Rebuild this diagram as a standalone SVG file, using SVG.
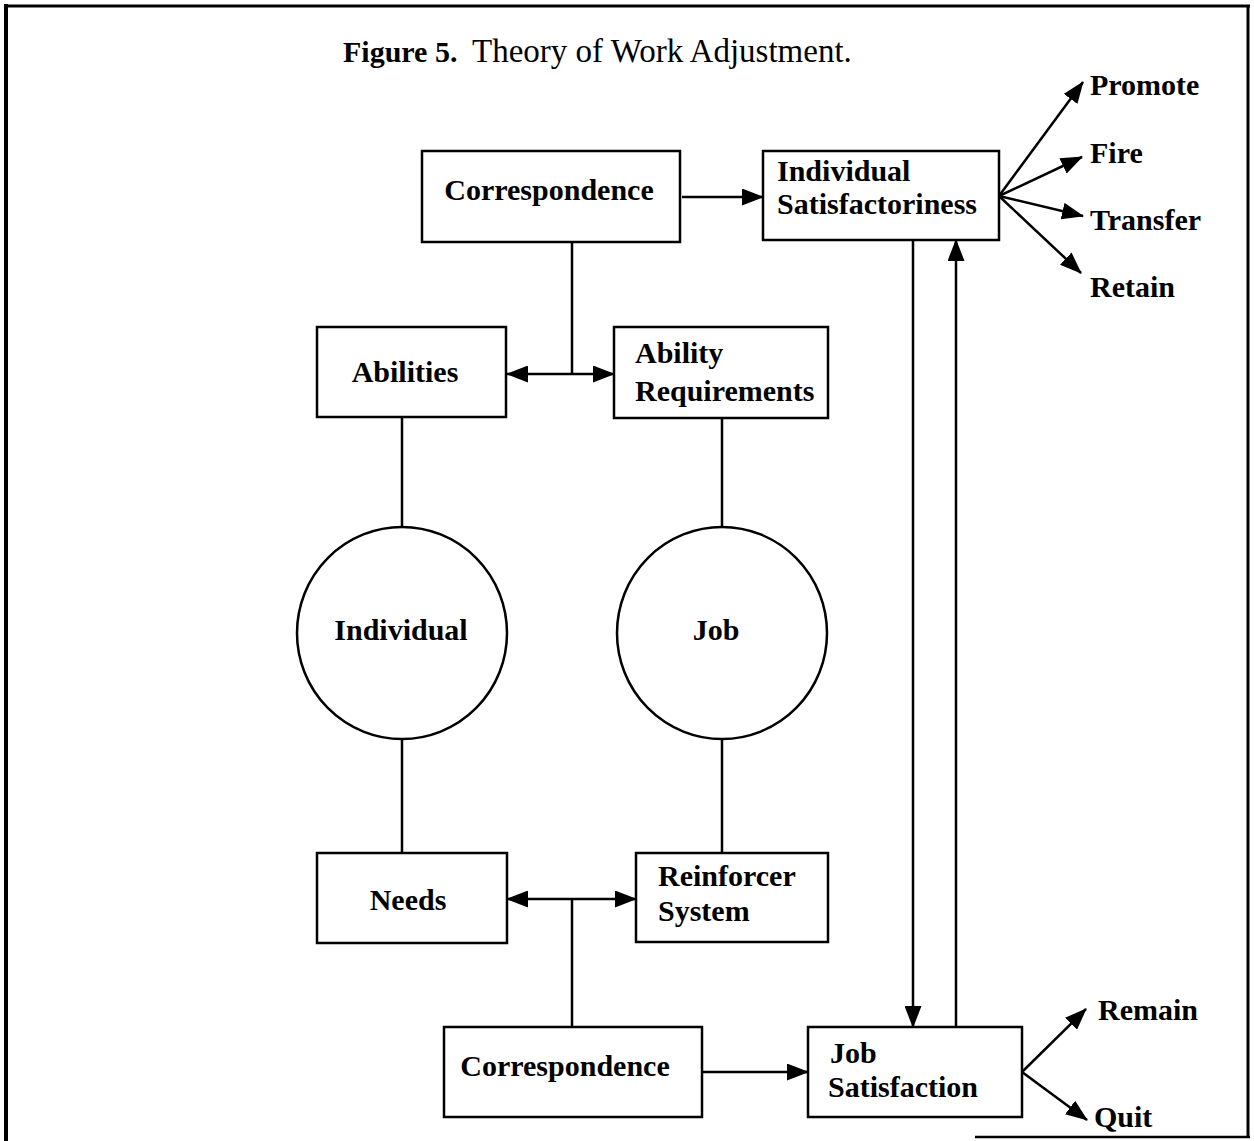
<svg xmlns="http://www.w3.org/2000/svg" width="1254" height="1141" viewBox="0 0 1254 1141">
<style>
.box{fill:#fff;stroke:#000;stroke-width:2.5}
.circ{fill:#fff;stroke:#000;stroke-width:2.5}
.lbl{font-family:"Liberation Serif","Times New Roman",serif;font-weight:bold;font-size:30px;fill:#000}
.ttl{font-family:"Liberation Serif","Times New Roman",serif;font-size:33px;fill:#000}
.ln{fill:none;stroke:#000;stroke-width:2.5}
.frame{fill:none;stroke:#000}
</style>
<defs>
<marker id="ah" markerUnits="userSpaceOnUse" markerWidth="22" markerHeight="17" viewBox="0 0 22 17" refX="21" refY="8.5" orient="auto-start-reverse">
<path d="M0,0 L22,8.5 L0,17 z" fill="#000"/>
</marker>
</defs>
<rect x="0" y="0" width="1254" height="1141" fill="#fff"/>
<g id="frame">
<line class="frame" x1="6" y1="4" x2="6" y2="1141" stroke-width="4"/>
<line class="frame" x1="4" y1="6" x2="1250" y2="6" stroke-width="3"/>
<line class="frame" x1="1248" y1="5" x2="1248" y2="1138" stroke-width="3"/>
<line class="frame" x1="975" y1="1137" x2="1250" y2="1137" stroke-width="2.5"/>
</g>
<g id="title">
<text class="ttl" y="62"><tspan x="343" font-weight="bold" font-size="30">Figure 5.</tspan><tspan x="472">Theory of Work Adjustment.</tspan></text>
</g>
<g id="connectors">
<path class="ln" d="M682,197 H763" marker-end="url(#ah)"/>
<path class="ln" d="M572,243 V374"/>
<path class="ln" d="M507,374 H614" marker-start="url(#ah)" marker-end="url(#ah)"/>
<path class="ln" d="M402,418 V527 M402,739 V853"/>
<path class="ln" d="M722,418 V527 M722,739 V853"/>
<path class="ln" d="M507,899 H636" marker-start="url(#ah)" marker-end="url(#ah)"/>
<path class="ln" d="M572,899 V1027"/>
<path class="ln" d="M702,1072 H808" marker-end="url(#ah)"/>
<path class="ln" d="M913,240 V1027" marker-end="url(#ah)"/>
<path class="ln" d="M956,1027 V240" marker-end="url(#ah)"/>
<path class="ln" d="M999,196 L1083,82" marker-end="url(#ah)"/>
<path class="ln" d="M999,196 L1082,157" marker-end="url(#ah)"/>
<path class="ln" d="M999,196 L1083,216" marker-end="url(#ah)"/>
<path class="ln" d="M999,196 L1081,273" marker-end="url(#ah)"/>
<path class="ln" d="M1022,1072 L1086,1009" marker-end="url(#ah)"/>
<path class="ln" d="M1022,1072 L1087,1120" marker-end="url(#ah)"/>
</g>
<g id="corr-top">
<rect class="box" x="422" y="151" width="258" height="91"/>
<text class="lbl" x="549" y="200" text-anchor="middle">Correspondence</text>
</g>
<g id="ind-sat">
<rect class="box" x="763" y="151" width="236" height="89"/>
<text class="lbl" x="777" y="181">Individual</text>
<text class="lbl" x="777" y="214">Satisfactoriness</text>
</g>
<g id="abilities">
<rect class="box" x="317" y="327" width="189" height="90"/>
<text class="lbl" x="405" y="382" text-anchor="middle">Abilities</text>
</g>
<g id="ability-req">
<rect class="box" x="614" y="327" width="214" height="91"/>
<text class="lbl" x="635" y="363">Ability</text>
<text class="lbl" x="635" y="401">Requirements</text>
</g>
<g id="individual">
<ellipse class="circ" cx="402" cy="633" rx="105" ry="106"/>
<text class="lbl" x="401" y="640" text-anchor="middle">Individual</text>
</g>
<g id="job">
<ellipse class="circ" cx="722" cy="633" rx="105" ry="106"/>
<text class="lbl" x="716" y="640" text-anchor="middle">Job</text>
</g>
<g id="needs">
<rect class="box" x="317" y="853" width="190" height="90"/>
<text class="lbl" x="408" y="910" text-anchor="middle">Needs</text>
</g>
<g id="reinforcer">
<rect class="box" x="636" y="853" width="192" height="89"/>
<text class="lbl" x="658" y="886">Reinforcer</text>
<text class="lbl" x="658" y="921">System</text>
</g>
<g id="corr-bottom">
<rect class="box" x="444" y="1027" width="258" height="90"/>
<text class="lbl" x="565" y="1076" text-anchor="middle">Correspondence</text>
</g>
<g id="job-sat">
<rect class="box" x="808" y="1027" width="214" height="90"/>
<text class="lbl" x="830" y="1063">Job</text>
<text class="lbl" x="828" y="1097">Satisfaction</text>
</g>
<g id="outcomes">
<text class="lbl" x="1090" y="95">Promote</text>
<text class="lbl" x="1090" y="163">Fire</text>
<text class="lbl" x="1090" y="230">Transfer</text>
<text class="lbl" x="1090" y="297">Retain</text>
<text class="lbl" x="1098" y="1020">Remain</text>
<text class="lbl" x="1094" y="1127">Quit</text>
</g>
</svg>
